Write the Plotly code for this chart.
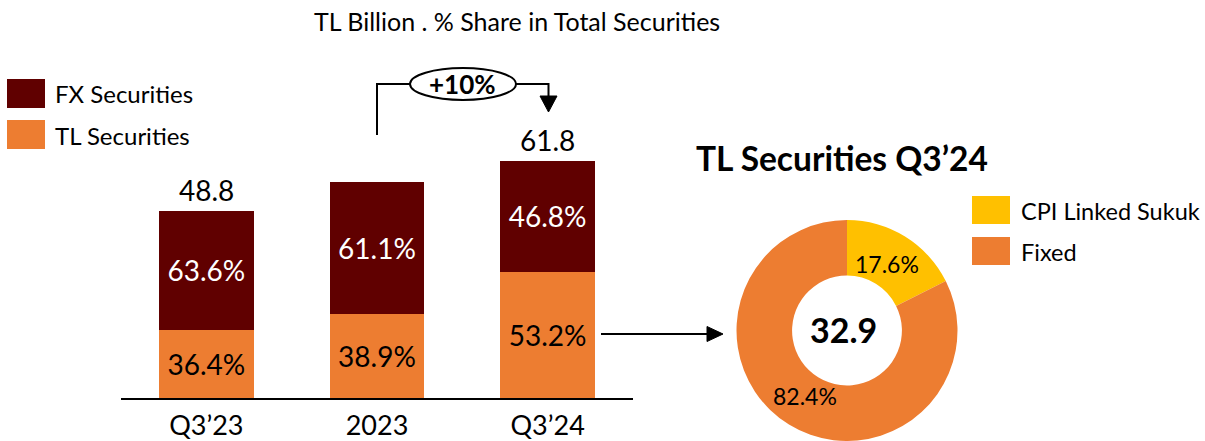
import plotly.graph_objects as go

# ---- data ----
categories = ["Q3’23", "2023", "Q3’24"]
totals = [48.8, 56.2, 61.8]
tl_share = [36.4, 38.9, 53.2]
fx_share = [63.6, 61.1, 46.8]
growth_label = "+10%"

pie_labels = ["CPI Linked Sukuk", "Fixed"]
pie_values = [17.6, 82.4]
pie_total = 32.9

# ---- style ----
W, H = 1205, 441
FX_COLOR = "#600000"
TL_COLOR = "#ED7D31"
CPI_COLOR = "#FFC000"
FONT = "Lato"


def px(x):
    return x / W


def py(y):
    return 1 - y / H


tl_vals = [t * s / 100 for t, s in zip(totals, tl_share)]
fx_vals = [t * s / 100 for t, s in zip(totals, fx_share)]

fig = go.Figure()

fig.add_trace(go.Bar(
    x=categories, y=tl_vals, name="TL Securities",
    marker=dict(color=TL_COLOR, line=dict(width=0)),
    text=[f"{v:.1f}%" for v in tl_share], textposition="inside",
    insidetextanchor="middle",
    textfont=dict(family=FONT, size=28, color="black"),
    width=0.556, hoverinfo="skip",
))
fig.add_trace(go.Bar(
    x=categories, y=fx_vals, name="FX Securities",
    marker=dict(color=FX_COLOR, line=dict(width=0)),
    text=[f"{v:.1f}%" for v in fx_share], textposition="inside",
    insidetextanchor="middle",
    textfont=dict(family=FONT, size=28, color="white"),
    width=0.556, hoverinfo="skip",
))

PIE_CX, PIE_CY, PIE_R = 847, 330.5, 110.5
fig.add_trace(go.Pie(
    labels=pie_labels, values=pie_values,
    marker=dict(colors=[CPI_COLOR, TL_COLOR], line=dict(width=0)),
    hole=0.497, sort=False, direction="clockwise", rotation=0,
    textinfo="none",
    domain=dict(x=[px(PIE_CX - PIE_R), px(PIE_CX + PIE_R)], y=[0, py(PIE_CY - PIE_R)]),
    showlegend=False, hoverinfo="skip",
))

annotations = []
# totals above bars
for c, t in zip(categories, totals):
    annotations.append(dict(x=c, y=t, xref="x", yref="y", text=f"{t:.1f}",
                            showarrow=False, yanchor="middle", yshift=21,
                            font=dict(family=FONT, size=28, color="black")))

# chart subtitle
annotations.append(dict(x=px(517), y=py(21), xref="paper", yref="paper",
                        text="TL Billion . % Share in Total Securities",
                        showarrow=False, xanchor="center", yanchor="middle",
                        font=dict(family=FONT, size=25, color="black")))
# left legend
annotations.append(dict(x=px(53), y=py(94), xref="paper", yref="paper",
                        text="FX Securities", showarrow=False,
                        xanchor="left", yanchor="middle",
                        font=dict(family=FONT, size=24, color="black")))
annotations.append(dict(x=px(53), y=py(135), xref="paper", yref="paper",
                        text="TL Securities", showarrow=False,
                        xanchor="left", yanchor="middle",
                        font=dict(family=FONT, size=24, color="black")))
# growth label
annotations.append(dict(x=px(462), y=py(84), xref="paper", yref="paper",
                        text=f"<b>{growth_label}</b>", showarrow=False,
                        xanchor="center", yanchor="middle",
                        font=dict(family=FONT, size=26, color="black")))
# donut title
annotations.append(dict(x=px(694), y=py(158), xref="paper", yref="paper",
                        text="<b>TL Securities Q3’24</b>", showarrow=False,
                        xanchor="left", yanchor="middle",
                        font=dict(family=FONT, size=33.5, color="black")))
# donut center
annotations.append(dict(x=px(843), y=py(329), xref="paper", yref="paper",
                        text=f"<b>{pie_total:.1f}</b>", showarrow=False,
                        xanchor="center", yanchor="middle",
                        font=dict(family=FONT, size=34, color="black")))
# donut slice labels
for (lx, ly), v in zip([(887, 264), (805, 396)], pie_values):
    annotations.append(dict(x=px(lx), y=py(ly), xref="paper", yref="paper",
                            text=f"{v:.1f}%", showarrow=False,
                            xanchor="center", yanchor="middle",
                            font=dict(family=FONT, size=23, color="black")))
# pie legend
annotations.append(dict(x=px(1019), y=py(211), xref="paper", yref="paper",
                        text=pie_labels[0], showarrow=False,
                        xanchor="left", yanchor="middle",
                        font=dict(family=FONT, size=23.5, color="black")))
annotations.append(dict(x=px(1019), y=py(252), xref="paper", yref="paper",
                        text=pie_labels[1], showarrow=False,
                        xanchor="left", yanchor="middle",
                        font=dict(family=FONT, size=23.5, color="black")))

shapes = []
# legend swatches
for (y0, y1, col) in [(79, 108, FX_COLOR), (120, 149, TL_COLOR),
                      (196, 224, CPI_COLOR), (237, 265, TL_COLOR)]:
    x0, x1 = (7, 45) if y0 < 190 else (972, 1010)
    shapes.append(dict(type="rect", xref="paper", yref="paper",
                       x0=px(x0), x1=px(x1), y0=py(y1), y1=py(y0),
                       fillcolor=col, line=dict(width=0)))
# growth bracket
shapes.append(dict(type="path", xref="paper", yref="paper",
                   path=f"M {px(377)} {py(135)} L {px(377)} {py(84)} L {px(410)} {py(84)}",
                   line=dict(color="black", width=2)))
shapes.append(dict(type="circle", xref="paper", yref="paper",
                   x0=px(410), x1=px(516), y0=py(100), y1=py(68),
                   line=dict(color="black", width=2), fillcolor="white"))
shapes.append(dict(type="path", xref="paper", yref="paper",
                   path=f"M {px(516)} {py(84)} L {px(548.5)} {py(84)} L {px(548.5)} {py(97)}",
                   line=dict(color="black", width=2)))
shapes.append(dict(type="path", xref="paper", yref="paper",
                   path=f"M {px(540)} {py(96)} L {px(557)} {py(96)} L {px(548.5)} {py(112)} Z",
                   fillcolor="black", line=dict(color="black", width=1)))
# arrow from bar to donut
shapes.append(dict(type="line", xref="paper", yref="paper",
                   x0=px(601), x1=px(709), y0=py(334), y1=py(334),
                   line=dict(color="black", width=2)))
shapes.append(dict(type="path", xref="paper", yref="paper",
                   path=f"M {px(707)} {py(326.5)} L {px(723)} {py(334)} L {px(707)} {py(341.5)} Z",
                   fillcolor="black", line=dict(color="black", width=1)))

fig.update_layout(
    width=W, height=H,
    margin=dict(l=0, r=0, t=0, b=0),
    paper_bgcolor="white", plot_bgcolor="white",
    barmode="stack", showlegend=False, hovermode=False,
    font=dict(family=FONT, color="black"),
    xaxis=dict(domain=[px(121), px(633)], type="category",
               range=[-0.5, 2.5], showline=True, linecolor="black",
               linewidth=2, showgrid=False, zeroline=False, ticks="",
               tickfont=dict(family=FONT, size=27, color="black"),
               ticklabelstandoff=3, fixedrange=True),
    yaxis=dict(domain=[py(398), py(100)], range=[0, 77.7],
               visible=False, showgrid=False, zeroline=False,
               fixedrange=True),
    annotations=annotations, shapes=shapes,
)

fig.write_html(
    "out.html",
    config={"displayModeBar": False, "staticPlot": True},
    post_script="document.body.style.margin='0px';document.body.style.overflow='hidden';",
)
